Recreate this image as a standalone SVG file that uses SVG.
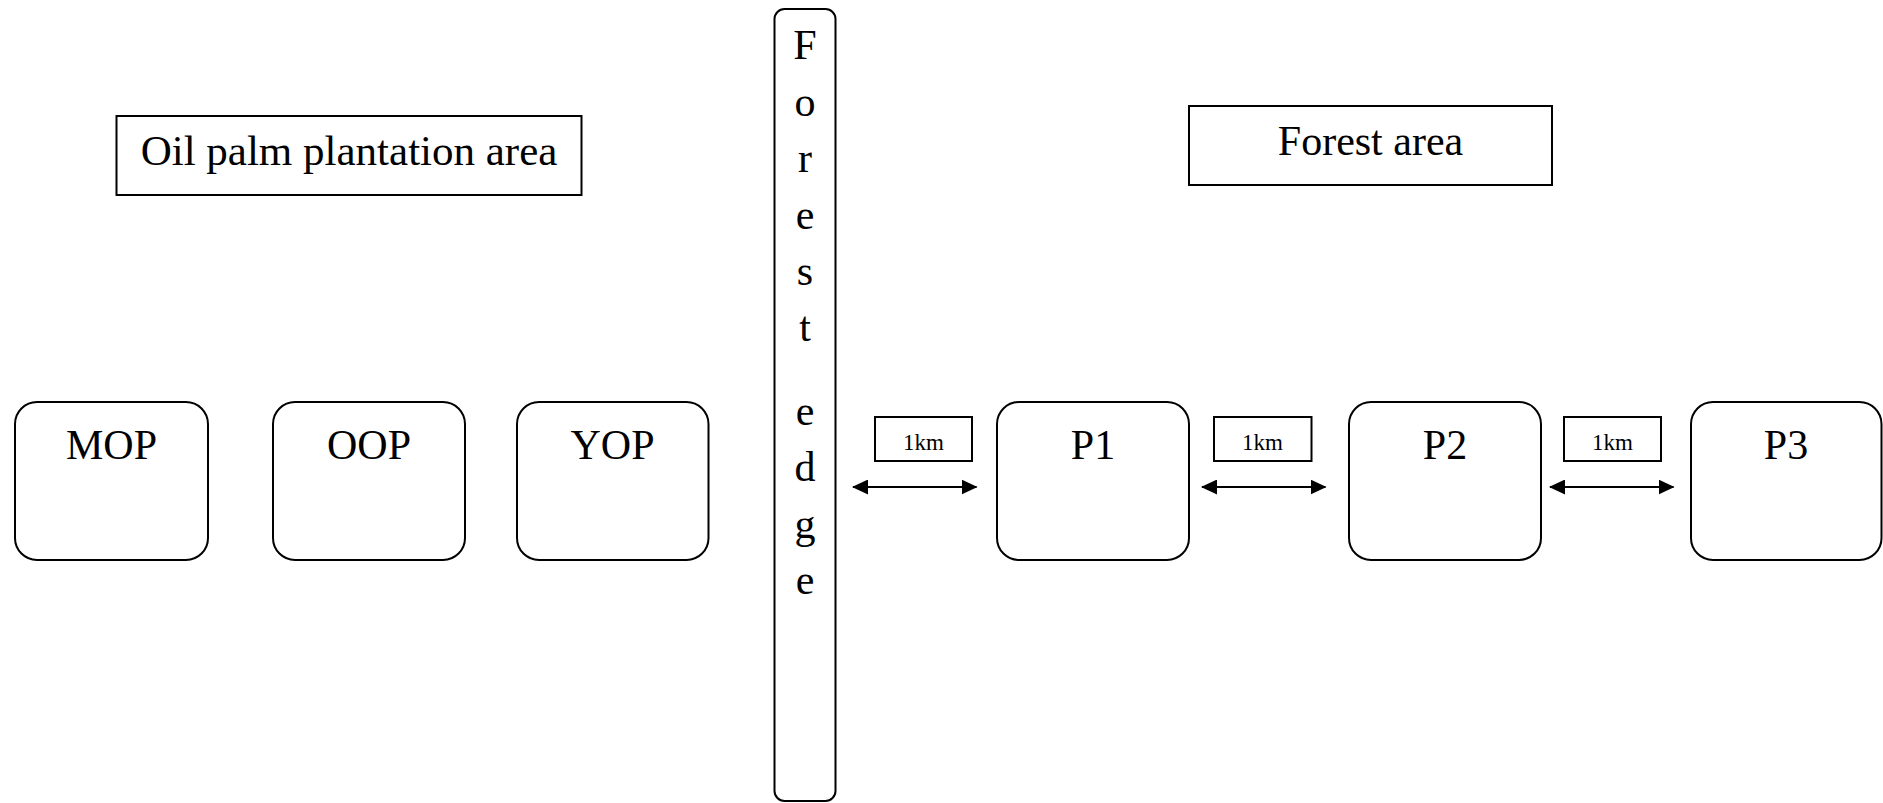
<svg xmlns="http://www.w3.org/2000/svg" width="1883" height="803" viewBox="0 0 1883 803">
<style>
.box{fill:#fff;stroke:#000;stroke-width:2}
.big{font-family:"Liberation Serif","Times New Roman",serif;font-size:42px;fill:#000;text-anchor:middle}
.small{font-family:"Liberation Serif","Times New Roman",serif;font-size:23px;fill:#000;text-anchor:middle}
.conn{stroke:#000;stroke-width:2.2;fill:none;marker-start:url(#ah);marker-end:url(#ah)}
</style>
<defs>
<marker id="ah" viewBox="0 0 16 15" refX="15" refY="7.5" markerWidth="16" markerHeight="15" orient="auto-start-reverse" markerUnits="userSpaceOnUse">
<path d="M0,0 L16,7.5 L0,15 z" fill="#000"/>
</marker>
</defs>
<rect width="1883" height="803" fill="#fff"/>
<g id="oil-palm-label">
<rect class="box" x="116.5" y="116" width="465" height="79"/>
<text class="big" x="349" y="165" style="font-size:43px">Oil palm plantation area</text>
</g>
<g id="forest-area-label">
<rect class="box" x="1189" y="106" width="363" height="79"/>
<text class="big" x="1370.5" y="155">Forest area</text>
</g>
<g id="forest-edge">
<rect class="box" x="774.5" y="9" width="61" height="792" rx="10"/>
<text class="big" x="805" y="59">F</text>
<text class="big" x="805" y="115.5">o</text>
<text class="big" x="805" y="172">r</text>
<text class="big" x="805" y="228.5">e</text>
<text class="big" x="805" y="285">s</text>
<text class="big" x="805" y="341">t</text>
<text class="big" x="805" y="424.5">e</text>
<text class="big" x="805" y="481">d</text>
<text class="big" x="805" y="537.5">g</text>
<text class="big" x="805" y="594">e</text>
</g>
<g id="MOP">
<rect class="box" x="15" y="402" width="193" height="158" rx="22"/>
<text class="big" x="111.5" y="459">MOP</text>
</g>
<g id="OOP">
<rect class="box" x="273" y="402" width="192" height="158" rx="22"/>
<text class="big" x="369" y="459">OOP</text>
</g>
<g id="YOP">
<rect class="box" x="517" y="402" width="191.5" height="158" rx="22"/>
<text class="big" x="612.5" y="459">YOP</text>
</g>
<g id="P1">
<rect class="box" x="997" y="402" width="192" height="158" rx="22"/>
<text class="big" x="1093" y="459">P1</text>
</g>
<g id="P2">
<rect class="box" x="1349" y="402" width="192" height="158" rx="22"/>
<text class="big" x="1445" y="459">P2</text>
</g>
<g id="P3">
<rect class="box" x="1691" y="402" width="190.5" height="158" rx="22"/>
<text class="big" x="1786" y="459">P3</text>
</g>
<g id="dist1">
<rect class="box" x="875" y="417" width="97" height="44"/>
<text class="small" x="923.5" y="450">1km</text>
</g>
<g id="dist2">
<rect class="box" x="1214" y="417" width="97.5" height="44"/>
<text class="small" x="1262.5" y="450">1km</text>
</g>
<g id="dist3">
<rect class="box" x="1564" y="417" width="97" height="44"/>
<text class="small" x="1612.5" y="450">1km</text>
</g>
<g id="connectors">
<line class="conn" x1="853" y1="487" x2="976.5" y2="487"/>
<line class="conn" x1="1202" y1="487" x2="1325.5" y2="487"/>
<line class="conn" x1="1550" y1="487" x2="1673.5" y2="487"/>
</g>
</svg>
